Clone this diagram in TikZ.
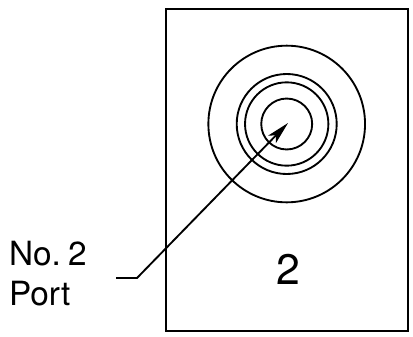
\documentclass[tikz,border=0pt]{standalone}
\usepackage{fontspec}
\setmainfont{TeX Gyre Heros}
\usetikzlibrary{arrows.meta}
\tikzset{
  ring/.style={circle,draw=black,line width=1.4pt,inner sep=0pt,outer sep=0pt},
  lbl/.style={inner sep=0pt,outer sep=0pt,anchor=base west,font=\fontsize{25}{25}\selectfont},
  leader/.style={draw=black,line width=1.4pt,-{Stealth[length=17pt,width=8pt,inset=4pt]}}
}
\begin{document}
\begin{tikzpicture}[x=0.75pt,y=-0.75pt]
\useasboundingbox (0,0) rectangle (413,336);
\node[draw=black,line width=1.8pt,inner sep=0pt,outer sep=0pt,minimum width=181.5pt,minimum height=241.5pt,anchor=north west] (body) at (166,8.7) {};
\coordinate (c) at (286.7,124);
\node[ring,minimum size=117.5pt] (r1) at (c) {};
\node[ring,minimum size=75pt] (r2) at (c) {};
\node[ring,minimum size=62.5pt] (r3) at (c) {};
\node[ring,minimum size=38.2pt] (r4) at (c) {};
\coordinate (tip) at (288,123);
\coordinate (elbow) at (137,278);
\coordinate (tail) at (116,278);
\draw[leader] (tail) -- (elbow) -- (tip);
\node[lbl] (no) at (9,265) {No.\hspace{0.22em}2};
\node[lbl] (port) at (9,305) {Port};
\node[inner sep=0pt,outer sep=0pt,anchor=base,font=\fontsize{32}{32}\selectfont] (two) at (288,284) {2};
\end{tikzpicture}
\end{document}
